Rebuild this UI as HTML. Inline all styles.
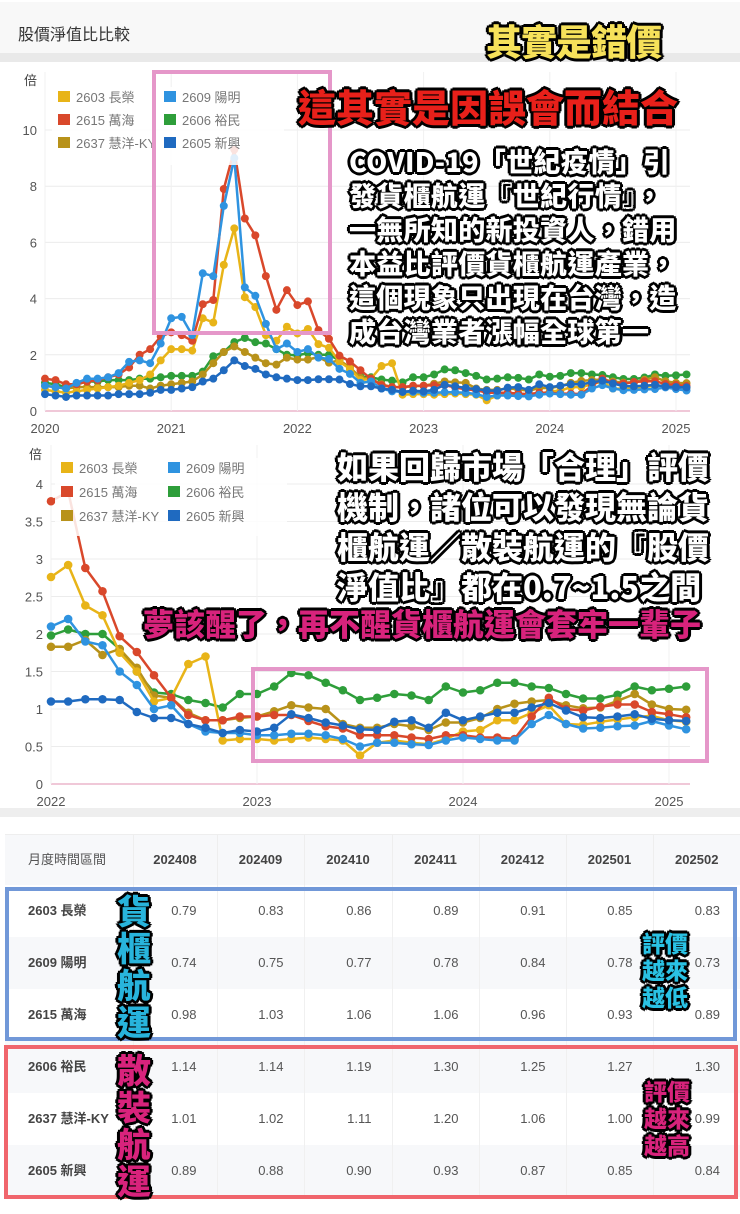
<!DOCTYPE html>
<html><head><meta charset="utf-8">
<style>
*{margin:0;padding:0;box-sizing:border-box}
body{width:740px;height:1214px;background:#fff;position:relative;overflow:hidden;font-family:"Liberation Sans","Noto Sans CJK TC",sans-serif}
.abs{position:absolute}
.ol{font-family:"Noto Sans CJK TC","Noto Sans CJK SC",sans-serif;font-weight:900;white-space:nowrap;
text-shadow:2px 0 #000,-2px 0 #000,0 2px #000,0 -2px #000,2px 2px #000,-2px -2px #000,2px -2px #000,-2px 2px #000,3px 0 #000,-3px 0 #000,0 3px #000,0 -3px #000}
table{border-collapse:collapse;table-layout:fixed}
td,th{font-size:13px;color:#444;padding:0;line-height:16px}
</style></head><body>
<div class="abs" style="left:0;top:2px;width:740px;height:51px;background:#f8f8f8"></div>
<div class="abs" style="left:0;top:53px;width:740px;height:9px;background:#e9e9e9"></div>
<div class="abs" style="left:18px;top:21px;font-size:16px;color:#333;font-family:'Liberation Sans','Noto Sans CJK TC',sans-serif">股價淨值比比較</div>
<div class="abs ol" style="left:486px;top:18px;font-size:36px;line-height:44px;color:#f6e15a;letter-spacing:-1px">其實是錯價</div>

<svg id="c1" class="abs" style="left:0;top:62px" width="740" height="378"></svg>
<svg id="c2" class="abs" style="left:0;top:440px" width="740" height="368"></svg>

<div class="abs" style="left:152px;top:70px;width:180px;height:265px;border:4px solid #e597c9"></div>
<div class="abs ol" style="left:298px;top:82px;font-size:38px;line-height:48px;color:#e8201a;letter-spacing:0px">這其實是因誤會而結合</div>
<div class="abs ol" style="left:349px;top:144px;font-size:27px;line-height:34px;color:#fff;letter-spacing:0.3px">COVID-19「世紀疫情」引<br>發貨櫃航運『世紀行情』，<br>一無所知的新投資人，錯用<br>本益比評價貨櫃航運產業，<br>這個現象只出現在台灣，造<br>成台灣業者漲幅全球第一</div>

<div class="abs" style="left:251px;top:667px;width:458px;height:96px;border:4px solid #e597c9"></div>
<div class="abs ol" style="left:337px;top:446px;font-size:31px;line-height:40px;color:#fff">如果回歸市場「合理」評價<br>機制，諸位可以發現無論貨<br>櫃航運／散裝航運的『股價<br>淨值比』都在0.7~1.5之間</div>
<div class="abs ol" style="left:143px;top:603px;font-size:31px;line-height:40px;color:#d8237c">夢該醒了，再不醒貨櫃航運會套牢一輩子</div>

<div class="abs" style="left:0;top:808px;width:740px;height:9px;background:#eeeeee"></div>
<div class="abs" style="left:5px;top:817px;width:735px;height:18px;background:#fff;border-bottom:1px solid #eee"></div>
<table class="abs" id="tbl" style="left:5px;top:835px;width:735px">
<tr style="height:50px;background:#f7f8fa">
<th style="width:128px;text-align:left;padding-left:23px;font-weight:normal;color:#555">月度時間區間</th>
<th style="width:84px;border-left:1px solid #eee">202408</th>
<th style="width:87px;border-left:1px solid #eee">202409</th>
<th style="width:88px;border-left:1px solid #eee">202410</th>
<th style="width:87px;border-left:1px solid #eee">202411</th>
<th style="width:87px;border-left:1px solid #eee">202412</th>
<th style="width:87px;border-left:1px solid #eee">202501</th>
<th style="border-left:1px solid #eee">202502</th>
</tr>
</table>

<div class="abs" style="left:5px;top:887px;width:732px;height:154px;border:4px solid #7198d8"></div>
<div class="abs" style="left:4px;top:1045px;width:734px;height:154px;border:4px solid #f0656c"></div>
<div class="abs ol" style="left:117px;top:891px;font-size:34px;line-height:37px;color:#28b4dc;white-space:normal;width:36px">貨櫃航運</div>
<div class="abs ol" style="left:117px;top:1050px;font-size:34px;line-height:37px;color:#d8237c;white-space:normal;width:36px">散裝航運</div>
<div class="abs ol" style="left:642px;top:929px;font-size:23px;line-height:27px;color:#2ac2e4;white-space:normal;width:48px">評價越來越低</div>
<div class="abs ol" style="left:644px;top:1077px;font-size:23px;line-height:27px;color:#d8237c;white-space:normal;width:48px">評價越來越高</div>

<script>
const NS='http://www.w3.org/2000/svg';
const names=['2603 長榮','2609 陽明','2615 萬海','2606 裕民','2637 慧洋-KY','2605 新興'];
const colors=['#e8b418','#2f93e0','#d9482b','#2e9e3a','#b8921a','#1f6ac0'];
const s2603=[.75,.7,.65,.7,.75,.8,.85,.9,1.0,1.1,1.3,1.8, 2.2,2.2,2.15,3.3,3.15,5.2,6.5,4.05,3.7,2.7,2.5,3.0, 2.76,2.92,2.38,2.25,1.75,1.5,1.1,1.15,1.6,1.7,.58,.6, .6,.58,.6,.62,.6,.58,.38,.55,.58,.55,.53,.6, .7,.72,.85,.85,.95,1.05,.8,.79,.83,.86,.89,.91, .85,.83];
const s2609=[.9,.85,.8,1.0,1.15,1.15,1.2,1.35,1.75,1.8,1.7,2.4, 3.3,3.35,2.7,4.9,4.8,7.3,9.0,4.4,4.1,3.1,2.2,2.4, 2.1,2.2,1.9,1.85,1.5,1.32,1.0,1.05,.8,.7,.68,.68, .65,.65,.67,.67,.65,.6,.5,.55,.55,.53,.52,.58, .62,.6,.58,.58,.8,.92,.8,.74,.75,.77,.78,.84, .78,.73];
const s2615=[1.15,1.1,.95,.95,1.05,1.1,1.2,1.3,1.55,2.0,2.2,2.65, 2.8,2.7,2.5,3.8,3.95,7.9,9.3,6.85,6.25,4.8,3.6,4.3, 3.77,3.9,2.88,2.57,1.97,1.76,1.45,1.15,.92,.85,.85,.9, .9,.92,.92,.84,.77,.74,.65,.65,.65,.62,.6,.65, .65,.62,.62,.6,.9,1.15,1.0,.98,1.03,1.06,1.06,.96, .93,.89];
const s2606=[1.0,.95,.85,.95,1.05,1.05,1.1,1.1,1.1,1.15,1.15,1.2, 1.25,1.25,1.25,1.4,1.95,2.1,2.45,2.6,2.45,2.4,2.2,2.0, 1.98,2.06,2.0,2.0,1.8,1.5,1.22,1.2,1.12,1.08,1.02,1.2, 1.2,1.3,1.48,1.45,1.35,1.25,1.12,1.15,1.2,1.18,1.12,1.3, 1.22,1.25,1.35,1.35,1.3,1.28,1.2,1.14,1.14,1.19,1.30,1.25, 1.27,1.30];
const s2637=[.9,.85,.8,.85,.85,.85,.85,.85,.9,.9,.8,.9, .95,1.0,1.05,1.3,1.7,2.1,2.3,2.1,1.9,1.7,1.65,1.9, 1.83,1.83,1.92,1.72,1.8,1.55,1.18,1.15,.95,.85,.85,.88, .9,.97,1.05,1.02,1.0,.8,.75,.75,.8,.77,.72,.82, .82,.88,1.0,1.07,1.1,1.12,1.05,1.01,1.02,1.11,1.20,1.06, 1.00,.99];
const s2605=[.6,.55,.5,.55,.55,.55,.55,.6,.6,.6,.65,.75, .75,.8,.85,1.05,1.15,1.45,1.8,1.6,1.5,1.3,1.2,1.15, 1.1,1.1,1.13,1.13,1.12,.96,.88,.88,.8,.75,.68,.72, .7,.75,.93,.88,.82,.78,.73,.72,.83,.85,.75,.95, .85,.9,.95,.95,1.02,1.08,.98,.89,.88,.90,.93,.87, .85,.84];
const series=[s2603,s2609,s2615,s2606,s2637,s2605];
const yTicks1=[0,2,4,6,8,10];
const yTicks2=[0,0.5,1,1.5,2,2.5,3,3.5,4];
const years1=[2020,2021,2022,2023,2024,2025];
const years2=[2022,2023,2024,2025];
const tableMonths=['202408','202409','202410','202411','202412','202501','202502'];
const tableStart=55;

function el(tag,attrs,parent){const e=document.createElementNS(NS,tag);for(const k in attrs)e.setAttribute(k,attrs[k]);parent.appendChild(e);return e;}

function drawChart(svg,o){
  const x=i=>o.x0+(i-o.start)*o.mx;
  const y=v=>o.y0-v*o.my;
  o.yTicks.forEach(t=>{
    const g=el('line',{x1:o.x0,x2:690,y1:y(t),y2:y(t),stroke:t===0?'#f0c8d8':'#ececec','stroke-width':t===0?2:1},svg);
    
    
    const tx=el('text',{x:o.x0-8,y:y(t)+5,'text-anchor':'end','font-size':13,fill:'#555','font-family':'Liberation Sans'},svg);
    tx.textContent=String(t);
    
    
  });
  o.years.forEach(yr=>{
    const i=(yr-2020)*12;
    const g=el('line',{x1:x(i),x2:x(i),y1:o.top,y2:y(0),stroke:'#f0f0f0','stroke-width':1},svg);
    
    
    const tx=el('text',{x:x(i),y:y(0)+22,'text-anchor':'middle','font-size':13,fill:'#555','font-family':'Liberation Sans'},svg);
    tx.textContent=String(yr);
    
    
  });
  const u=el('text',{x:o.unitX,y:o.unitY,'font-size':13,fill:'#444','font-family':'Noto Sans CJK TC'},svg);
  u.textContent='倍';
  
  
  const order=[3,4,0,2,1,5];
  order.forEach(si=>{
    const d=series[si];
    let pts=[];
    for(let i=o.start;i<d.length;i++)pts.push(x(i).toFixed(1)+','+y(d[i]).toFixed(1));
    const pl=el('polyline',{points:pts.join(' '),fill:'none',stroke:colors[si],'stroke-width':2.5,'stroke-linejoin':'round'},svg);
    
    
    for(let i=o.start;i<d.length;i++){
      const c=el('circle',{cx:x(i),cy:y(d[i]),r:o.r,fill:colors[si]},svg);
      
      
    }
  });
  const lg=el('rect',{x:o.lx-6,y:o.ly-14,width:232,height:78,fill:'#fff','fill-opacity':0.85},svg);
  
  
  const pos=[[0,0],[1,0],[0,1],[1,1],[0,2],[1,2]];
  [0,1,2,3,4,5].forEach((si,k)=>{
    const px=o.lx+pos[k][0]*o.lcol, py=o.ly+pos[k][1]*o.lrow;
    const r=el('rect',{x:px,y:py-10,width:12,height:11,fill:colors[si]},svg);
    
    
    const t=el('text',{x:px+18,y:py+1,'font-size':13,fill:'#777','font-family':'Liberation Sans, Noto Sans CJK TC'},svg);
    t.textContent=names[si];
    
    
  });
}
drawChart(document.getElementById('c1'),{start:0,x0:45,mx:631/60,y0:349,my:28.1,yTicks:yTicks1,years:years1,top:10,unitX:24,unitY:23,r:4,lx:58,ly:39,lcol:106,lrow:23});
drawChart(document.getElementById('c2'),{start:24,x0:51,mx:618/36,y0:344,my:75,yTicks:yTicks2,years:years2,top:5,unitX:29,unitY:19,r:4.3,lx:61,ly:32,lcol:107,lrow:24});

const tbl=document.getElementById('tbl');
[0,1,2,3,4,5].forEach((si,k)=>{
  const tr=document.createElement('tr');
  
  
  tr.style.height='52px';
  tr.style.background=(k%2===1)?'#f7f8fa':'#fff';
  const th=document.createElement('td');
  th.textContent=names[si];
  
  
  th.style.cssText='padding-left:23px;font-weight:bold;color:#444;white-space:nowrap;height:52px';
  tr.appendChild(th);
  tableMonths.forEach((m,j)=>{
    const td=document.createElement('td');
    td.textContent=series[si][tableStart+j].toFixed(2);
    
    
    td.style.cssText='text-align:right;padding-right:20px;border-left:1px solid #f0f0f0;color:#555;height:52px';
    tr.appendChild(td);
  });
  tbl.appendChild(tr);
});
</script>
</body></html>
